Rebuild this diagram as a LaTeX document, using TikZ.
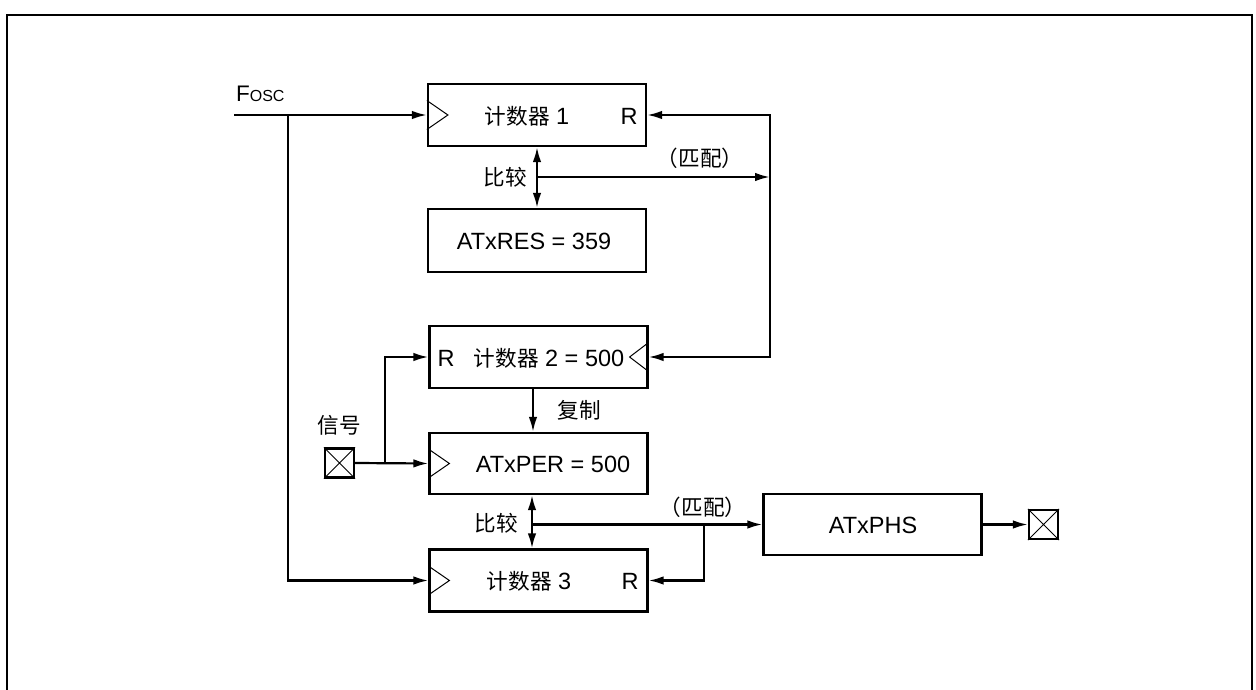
\documentclass[tikz,border=0pt]{standalone}
\usepackage{fontspec}
\setmainfont{Liberation Sans}
\newfontfamily\cjk[Scale=0.92]{Noto Sans CJK SC}
\usetikzlibrary{arrows.meta,calc}
\begin{document}
\begin{tikzpicture}[x=1pt,y=-1pt,
  line width=2.2pt,
  box/.style={draw,line width=2.2pt,inner sep=0pt,minimum width=218pt,minimum height=62pt},
  xbox/.style={draw,line width=2.2pt,inner sep=0pt,minimum width=29pt,minimum height=29pt},
  txt/.style={inner sep=0pt,font=\fontsize{23.5}{28}\selectfont},
  lbl/.style={inner sep=0pt,font=\fontsize{23.5}{28}\selectfont},
  arr/.style={-{Latex[length=15pt,width=8.5pt]}},
  darr/.style={{Latex[length=15pt,width=8.5pt]}-{Latex[length=15pt,width=8.5pt]}},
  clk/.style={line width=1pt}
]
\useasboundingbox (0,0) rectangle (1256,690);
% frame
\draw[line width=2.4pt] (7,690) -- (7,15) -- (1252,15) -- (1252,690);

% boxes
\node[box] (c1) at (537,115) {};
\node[box,minimum height=63pt] (res) at (537,240.5) {};
\node[box] (c2) at (538.5,357) {};
\node[box,minimum height=61pt] (per) at (538.5,463.5) {};
\node[box] (c3) at (538.5,580.5) {};
\node[box,minimum height=61pt] (phs) at (872.5,524.5) {};
\node[xbox] (sig) at (339.5,463) {};
\node[xbox] (out) at (1043.5,524.5) {};

% crosses
\draw[clk] (sig.north west) -- (sig.south east) (sig.south west) -- (sig.north east);
\draw[clk] (out.north west) -- (out.south east) (out.south west) -- (out.north east);

% clock triangles
\draw[clk] ([yshift=14.5pt]c1.west) -- ([xshift=21pt]c1.west) -- ([yshift=-14.5pt]c1.west);
\draw[clk] ([yshift=14.5pt]per.west) -- ([xshift=21pt]per.west) -- ([yshift=-14.5pt]per.west);
\draw[clk] ([yshift=14.5pt]c3.west) -- ([xshift=21pt]c3.west) -- ([yshift=-14.5pt]c3.west);
\draw[clk] ([yshift=14.5pt]c2.east) -- ([xshift=-19pt]c2.east) -- ([yshift=-14.5pt]c2.east);

% texts in boxes
\node[txt] (t1) at (527,116) {{\cjk 计数器} 1};
\node[txt] (r1) at (629,116) {R};
\node[txt] (tres) at (534,241) {ATxRES = 359};
\node[txt] (r2) at (446,358) {R};
\node[txt] (t2) at (549,358) {{\cjk 计数器} 2 = 500};
\node[txt] (tper) at (553,464) {ATxPER = 500};
\node[txt] (t3) at (529,581) {{\cjk 计数器} 3};
\node[txt] (r3) at (630,581) {R};
\node[txt] (tphs) at (873,525) {ATxPHS};

% labels
\node[inner sep=0pt,anchor=west] (fosc) at (235,94) {\fontsize{22.5}{24}\selectfont F\fontsize{16}{18}\selectfont OSC};
\node[lbl] (cmp1) at (505,177) {\cjk 比较};
\node[lbl] (cmp2) at (496,523) {\cjk 比较};
\node[lbl] (mt1) at (700,158) {\cjk （匹配）};
\node[lbl] (mt2) at (703,507) {\cjk （匹配）};
\node[lbl] (cp) at (579,410) {\cjk 复制};
\node[lbl] (sg) at (339,425) {\cjk 信号};

% coordinates
\coordinate (fin) at (234,115);
\coordinate (fb) at (288,115);
\coordinate (m1) at (537,177);
\coordinate (rt) at (770,177);
\coordinate (cpx) at (533,0);
\coordinate (sb) at (385,463);
\coordinate (cmx) at (532,0);
\coordinate (m2) at (532,524.5);
\coordinate (m2b) at (704,524.5);

% connectors
\draw[arr] (fin) -- (c1.west);
\draw[arr] (fb) |- (c3.west);
\draw[darr] (c1.south) -- (res.north);
\draw[arr] (m1) -- (rt);
\draw[arr] (rt) |- (c1.east);
\draw[arr] (rt) |- (c2.east);
\draw[arr] (c2.south -| cpx) -- (per.north -| cpx);
\draw[arr] (sig.east) -- (per.west);
\draw[arr] (sb) |- (c2.west);
\draw[darr] (per.south -| cmx) -- (c3.north -| cmx);
\draw[arr] (m2) -- (phs.west);
\draw[arr] (m2b) |- (c3.east);
\draw[arr] (phs.east) -- (out.west);
\end{tikzpicture}
\end{document}
